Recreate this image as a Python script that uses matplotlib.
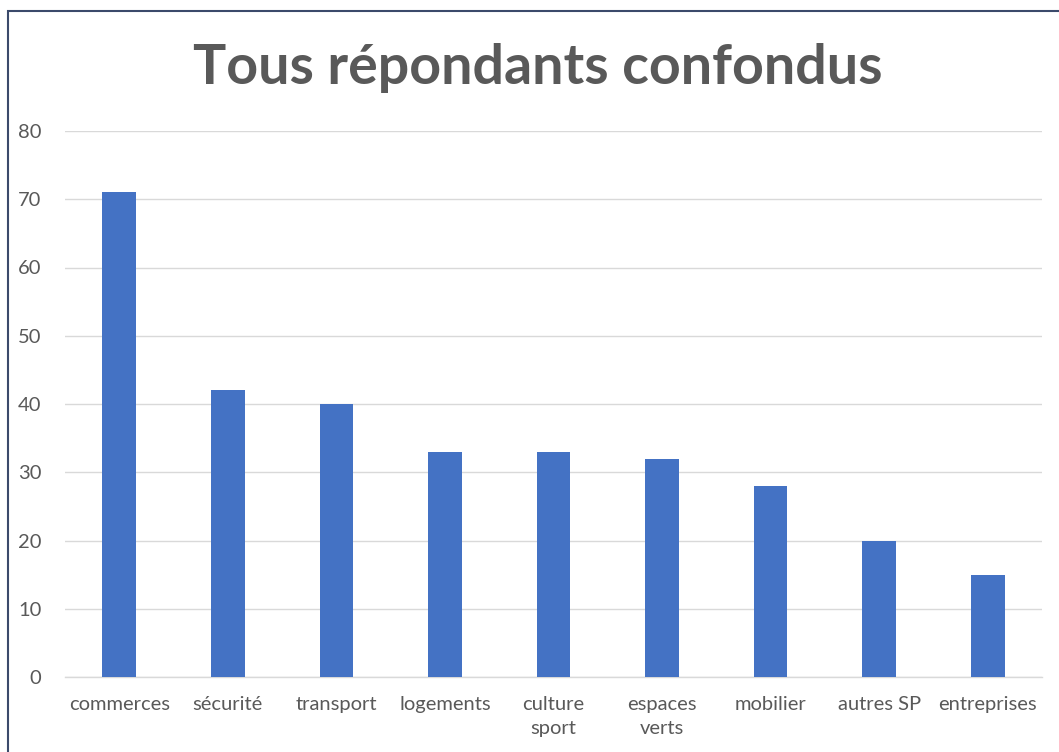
import matplotlib
matplotlib.use("Agg")
import matplotlib.pyplot as plt
from matplotlib.patches import Rectangle

categories = ["commerces", "sécurité", "transport", "logements", "culture\nsport",
              "espaces\nverts", "mobilier", "autres SP", "entreprises"]
values = [71, 42, 40, 33, 33, 32, 28, 20, 15]
yticks = [0, 10, 20, 30, 40, 50, 60, 70, 80]
title = "Tous répondants confondus"

W, H = 1059, 752
fig = plt.figure(figsize=(W / 100, H / 100), dpi=100)
plt.rcParams['font.family'] = ['Lato', 'DejaVu Sans']

left, right, bottom, top = 65, 1042, 677, 131
ax = fig.add_axes([left / W, 1 - bottom / H, (right - left) / W, (bottom - top) / H])

x = list(range(len(categories)))
ax.bar(x, values, width=0.31, color="#4472C4", zorder=3)
ax.set_xlim(-0.5, len(categories) - 0.5)
ax.set_ylim(0, 80)
ax.set_yticks(yticks)
ax.set_xticks(x)
ax.set_xticklabels(categories, fontsize=14.5, color="#595959", linespacing=1.45)
ax.tick_params(axis='y', labelsize=14.5, labelcolor="#595959", length=0, pad=17)
ax.tick_params(axis='x', length=0, pad=14)
ax.grid(axis='y', color="#D9D9D9", linewidth=1, zorder=0)
for s in ["top", "right", "left"]:
    ax.spines[s].set_visible(False)
ax.spines["bottom"].set_color("#D9D9D9")
ax.spines["bottom"].set_linewidth(1)

fig.text(538 / W, 1 - 68 / H, title, ha="center", va="center",
         fontsize=40, fontweight="bold", color="#595959")

fig.patches.append(Rectangle((8 / W, -0.1), 1.2, 1 - 11 / H + 0.1,
                             transform=fig.transFigure, fill=False,
                             edgecolor="#3B4A6B", linewidth=1.5))

fig.savefig("out.png", dpi=100)
